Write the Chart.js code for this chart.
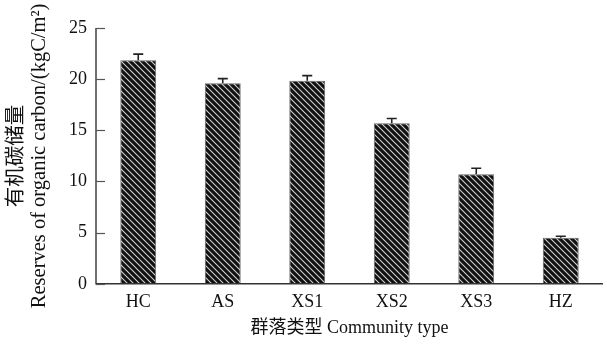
<!DOCTYPE html>
<html>
<head>
<meta charset="utf-8">
<script src="https://cdn.jsdelivr.net/npm/chart.js@4/dist/chart.umd.min.js"></script>
<style>
  html, body { margin: 0; padding: 0; background: #fff; }
  #wrap { width: 607px; height: 344px; position: relative; }
</style>
</head>
<body>
<div id="wrap"><canvas id="c" width="607" height="344"></canvas></div>
<script>
// Community types and their organic carbon reserves (kgC/m²)
const categories = ['HC', 'AS', 'XS1', 'XS2', 'XS3', 'HZ'];
const reserves = [21.85, 19.6, 19.85, 15.7, 10.7, 4.5];
const reserveErr = [0.6, 0.45, 0.5, 0.45, 0.6, 0.15];
const yTicks = [0, 5, 10, 15, 20, 25];

const FONT = '"Liberation Serif", "Times New Roman", "Noto Sans CJK SC", serif';

// Diagonal hatch fill for the bars
function hatchPattern() {
  const s = 6;
  const cv = document.createElement('canvas');
  cv.width = s; cv.height = s;
  const g = cv.getContext('2d');
  g.fillStyle = '#111';
  g.fillRect(0, 0, s, s);
  g.strokeStyle = '#d0d0d0';
  g.lineWidth = 1.1;
  g.beginPath();
  g.moveTo(-1, -1); g.lineTo(s + 1, s + 1);
  g.moveTo(-1, s - 1); g.lineTo(1, s + 1);
  g.moveTo(s - 1, -1); g.lineTo(s + 1, 1);
  g.stroke();
  return g.createPattern(cv, 'repeat');
}

// Upward error bars with caps
const errorBars = {
  id: 'errorBars',
  afterDatasetsDraw(chart) {
    const ctx = chart.ctx;
    const y = chart.scales.y;
    const meta = chart.getDatasetMeta(0);
    ctx.save();
    ctx.strokeStyle = '#222';
    ctx.lineWidth = 1.6;
    meta.data.forEach((bar, i) => {
      const x = bar.x;
      const top = y.getPixelForValue(reserves[i] + reserveErr[i]);
      const base = y.getPixelForValue(reserves[i]);
      ctx.beginPath();
      ctx.moveTo(x, base); ctx.lineTo(x, top);
      ctx.moveTo(x - 5, top); ctx.lineTo(x + 5, top);
      ctx.stroke();
    });
    ctx.restore();
  }
};

// Axis lines and inward tick marks on the value axis
const axisFrame = {
  id: 'axisFrame',
  afterDraw(chart) {
    const ctx = chart.ctx;
    const a = chart.chartArea;
    const y = chart.scales.y;
    ctx.save();
    ctx.strokeStyle = '#333';
    ctx.lineWidth = 1.4;
    ctx.beginPath();
    ctx.moveTo(a.left, a.top); ctx.lineTo(a.left, a.bottom);
    ctx.lineTo(a.right, a.bottom);
    ctx.stroke();
    ctx.lineWidth = 1.2;
    ctx.strokeStyle = '#555';
    yTicks.forEach(v => {
      const py = Math.round(y.getPixelForValue(v)) + 0.5;
      ctx.beginPath();
      ctx.moveTo(a.left, py); ctx.lineTo(a.left + 9, py);
      ctx.stroke();
    });
    ctx.restore();
  }
};

new Chart(document.getElementById('c'), {
  type: 'bar',
  data: {
    labels: categories,
    datasets: [{
      data: reserves,
      backgroundColor: hatchPattern(),
      borderColor: '#666',
      borderWidth: 1,
      barPercentage: 0.85,
      categoryPercentage: 0.5
    }]
  },
  options: {
    responsive: false,
    animation: false,
    events: [],
    layout: { padding: { left: 0, right: 4, top: 28, bottom: 5 } },
    plugins: { legend: { display: false }, tooltip: { enabled: false } },
    scales: {
      x: {
        grid: { display: false, drawTicks: false },
        border: { display: false },
        ticks: { color: '#111', padding: 8, font: { family: FONT, size: 18 } },
        title: {
          display: true,
          text: '群落类型 Community type',
          color: '#111',
          padding: { top: -4, bottom: 0 },
          font: { family: FONT, size: 18 }
        }
      },
      y: {
        min: 0, max: 25,
        afterBuildTicks(scale) { scale.ticks = yTicks.map(v => ({ value: v })); },
        afterFit(scale) { scale.width = 96; },
        grid: { display: false, drawTicks: false },
        border: { display: false },
        ticks: { color: '#111', padding: 9, font: { family: FONT, size: 18 } },
        title: {
          display: true,
          text: ['有机碳储量', 'Reserves of organic carbon/(kgC/m²)'],
          color: '#111',
          padding: { top: 5.5, bottom: 0 },
          font: { family: FONT, size: 20.5, lineHeight: 1.12 }
        }
      }
    }
  },
  plugins: [errorBars, axisFrame]
});
</script>
</body>
</html>
